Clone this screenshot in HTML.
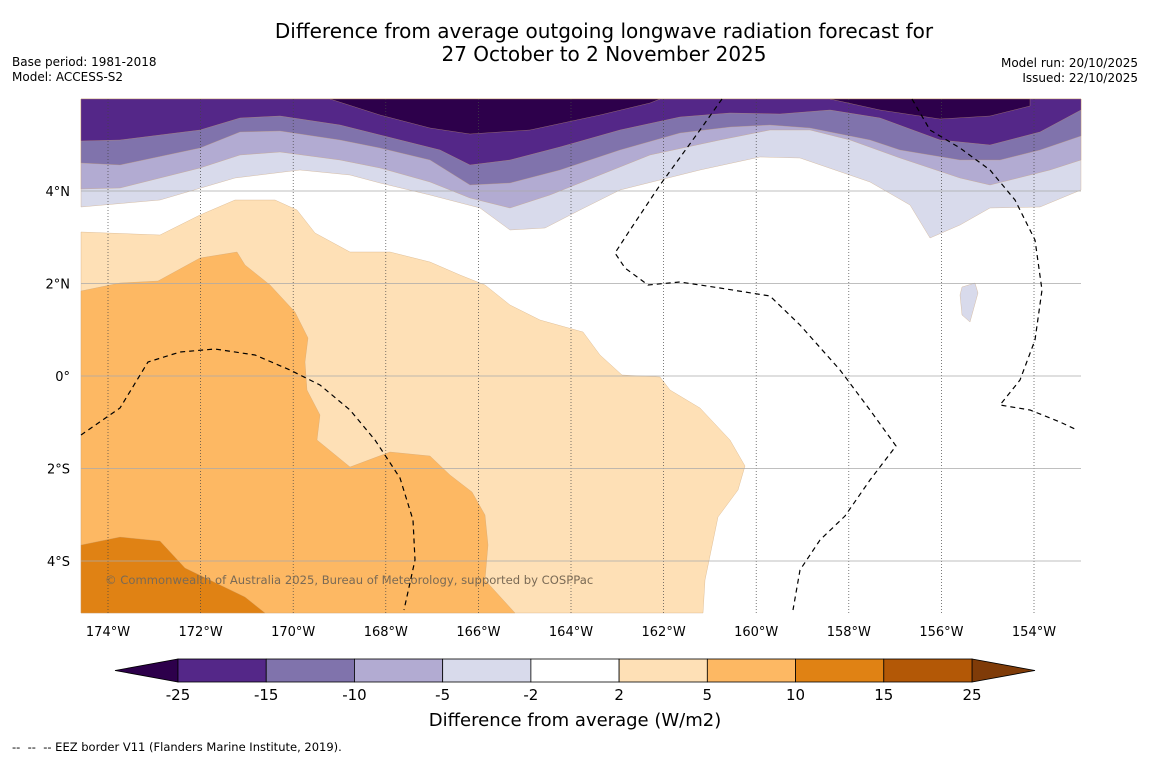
<!DOCTYPE html>
<html><head><meta charset="utf-8"><style>
body{margin:0;background:#fff;width:1150px;height:758px;overflow:hidden;font-family:"DejaVu Sans","Liberation Sans",sans-serif}
</style></head><body>
<svg id="s" width="1150" height="758" xmlns="http://www.w3.org/2000/svg">
<text x="604" y="38" font-size="20" text-anchor="middle">Difference from average outgoing longwave radiation forecast for</text>
<text x="604" y="61" font-size="20" text-anchor="middle">27 October to 2 November 2025</text>
<text x="12" y="66" font-size="12">Base period: 1981-2018</text>
<text x="12" y="81" font-size="12">Model: ACCESS-S2</text>
<text x="1138" y="67" font-size="12" text-anchor="end">Model run: 20/10/2025</text>
<text x="1138" y="82" font-size="12" text-anchor="end">Issued: 22/10/2025</text>
<text x="12" y="751" font-size="11.5" xml:space="preserve">--  --  -- EEZ border V11 (Flanders Marine Institute, 2019).</text>
<text x="575" y="726" font-size="18" text-anchor="middle">Difference from average (W/m2)</text>
<g id="map"></g><g id="cb"></g>
</svg>
<script>
const lonTicks=[-174,-172,-170,-168,-166,-164,-162,-160,-158,-156,-154];
const latTicks=[4,2,0,-2,-4];
const cbLevels=[-25,-15,-10,-5,-2,2,5,10,15,25];
const cbColors=["#542788","#8073ac","#b2abd2","#d8daeb","#ffffff","#fee0b6","#fdb863","#e08214","#b35806"];
const extLow="#2d004b", extHigh="#7f3b08";
const band2to5=[[81,232],[160,235],[200,215],[235,200],[275,200],[297,210],[315,233],[350,252],[390,252],[430,262],[460,275],[485,285],[510,305],[540,320],[583,332],[600,355],[622,375],[660,377],[670,390],[700,408],[730,440],[745,466],[738,490],[718,517],[705,580],[703,613],[81,613]];
const band5to10=[[81,291],[120,283],[158,281],[200,258],[237,252],[245,265],[270,285],[295,312],[308,338],[305,362],[307,390],[320,415],[317,440],[350,467],[390,452],[430,456],[450,475],[472,492],[485,515],[488,545],[485,580],[515,613],[81,613]];
const band10to15=[[81,545],[120,537],[160,541],[185,568],[245,597],[265,613],[81,613]];
const bandM2=[[81,207],[160,200],[235,178],[300,170],[350,175],[380,183],[430,195],[480,208],[510,230],[545,228],[580,210],[620,190],[700,170],[760,157],[800,158],[870,182],[910,205],[930,238],[960,225],[990,208],[1040,207],[1081,190],[1081,99],[81,99]];
const bandM5=[[81,189],[120,188],[200,168],[240,155],[280,152],[340,160],[380,168],[430,182],[470,198],[510,208],[550,195],[600,175],[650,155],[720,140],[770,130],[810,130],[850,140],[900,158],[960,178],[990,185],[1050,170],[1081,160],[1081,99],[81,99]];
const bandM10=[[81,163],[120,165],[200,148],[240,132],[280,131],[340,140],[380,148],[430,160],[470,185],[510,183],[560,170],[620,150],[680,133],[730,127],[770,125],[810,128],[870,140],[900,150],[960,160],[1000,160],[1040,150],[1081,136],[1081,99],[81,99]];
const bandM15=[[81,141],[120,140],[200,130],[240,118],[280,116],[340,125],[380,135],[440,150],[470,165],[510,160],[560,147],[620,130],[680,117],[730,113],[780,114],[830,110],[880,118],[940,140],[990,145],[1040,132],[1081,110],[1081,99],[81,99]];
const bandM25a=[[330,99],[380,115],[430,128],[470,134],[530,130],[600,115],[650,103],[660,99]];
const bandM25b=[[830,99],[880,110],[940,119],[990,116],[1030,106],[1030,99]];
const blob=[[962,287],[975,283],[978,293],[970,322],[962,315],[960,295]];
const eez1=[[722,99],[700,130],[660,185],[630,230],[615,253],[625,268],[648,285],[680,282],[720,288],[770,296],[800,325],[840,370],[870,410],[896,446],[870,480],[845,516],[820,540],[800,570],[793,610]];
const eez2=[[912,99],[930,130],[960,148],[990,170],[1015,200],[1035,240],[1042,290],[1035,340],[1020,380],[1000,405],[1030,410],[1060,422],[1077,430]];
const eez3=[[81,435],[120,408],[148,362],[180,352],[215,349],[255,355],[290,370],[320,385],[350,410],[375,440],[400,478],[413,520],[415,560],[404,610]];
const X0=81,X1=1081,Y0=99,Y1=613;
function xLon(l){return 108+(l+174)*46.3;}
function yLat(l){return 376-l*46.25;}
const NS="http://www.w3.org/2000/svg";
const map=document.getElementById('map'),cb=document.getElementById('cb');
function mk(t,a,p){const e=document.createElementNS(NS,t);for(const k in a)e.setAttribute(k,a[k]);(p||map).appendChild(e);return e;}
function pts(a){return a.map(p=>p.join(',')).join(' ');}
const bg=mk('rect',{x:X0,y:Y0,width:X1-X0,height:Y1-Y0,fill:'#fff'});


const bands=[[bandM2,cbColors[3],'band-minus2'],[bandM5,cbColors[2],'band-minus5'],[bandM10,cbColors[1],'band-minus10'],[bandM15,cbColors[0],'band-minus15'],[bandM25a,extLow,'band-minus25-a'],[bandM25b,extLow,'band-minus25-b'],[blob,cbColors[3],'band-minus2-blob'],[band2to5,cbColors[5],'band-2-5'],[band5to10,cbColors[6],'band-5-10'],[band10to15,cbColors[7],'band-10-15']];
bands.forEach(b=>{const e=mk('polygon',{points:pts(b[0]),fill:b[1],stroke:'#c9a070','stroke-width':0.3});

});
lonTicks.forEach(l=>{const x=xLon(l);
const g=mk('line',{x1:x,x2:x,y1:Y0,y2:Y1,stroke:'#444','stroke-width':0.7,'stroke-dasharray':'1,2'});


const t=mk('text',{x:x,y:636,'font-size':13,'text-anchor':'middle'});t.textContent=Math.abs(l)+'°W';

});
latTicks.forEach(l=>{const y=yLat(l);
const g=mk('line',{x1:X0,x2:X1,y1:y,y2:y,stroke:'#aaa','stroke-width':0.8});


const t=mk('text',{x:70,y:y+5,'font-size':13,'text-anchor':'end'});t.textContent=l===0?'0°':Math.abs(l)+'°'+(l>0?'N':'S');

});
[eez1,eez2,eez3].forEach(a=>{const e=mk('polyline',{points:pts(a),fill:'none',stroke:'#000','stroke-width':1.2,'stroke-dasharray':'5,4'});

});
const cp=mk('text',{x:105,y:584,'font-size':11.6,fill:'#7a6a55'});cp.textContent='© Commonwealth of Australia 2025, Bureau of Meteorology, supported by COSPPac';


const cbX0=178,cbX1=972,cbY=659,cbH=23,n=cbColors.length,w=(cbX1-cbX0)/n;
function cbX(i){return cbX0+i*w;}
const lo=mk('polygon',{points:pts([[115,670.5],[cbX0,cbY],[cbX0,cbY+cbH]]),fill:extLow,stroke:'#000','stroke-width':0.8},cb);


const hi=mk('polygon',{points:pts([[1035,670.5],[cbX1,cbY],[cbX1,cbY+cbH]]),fill:extHigh,stroke:'#000','stroke-width':0.8},cb);


cbColors.forEach((c,i)=>{const r=mk('rect',{x:cbX(i),y:cbY,width:w,height:cbH,fill:c,stroke:'#000','stroke-width':0.8},cb);

});
cbLevels.forEach((v,i)=>{const t=mk('text',{x:cbX(i),y:700,'font-size':15,'text-anchor':'middle'},cb);t.textContent=v;

});
</script>
</body></html>
